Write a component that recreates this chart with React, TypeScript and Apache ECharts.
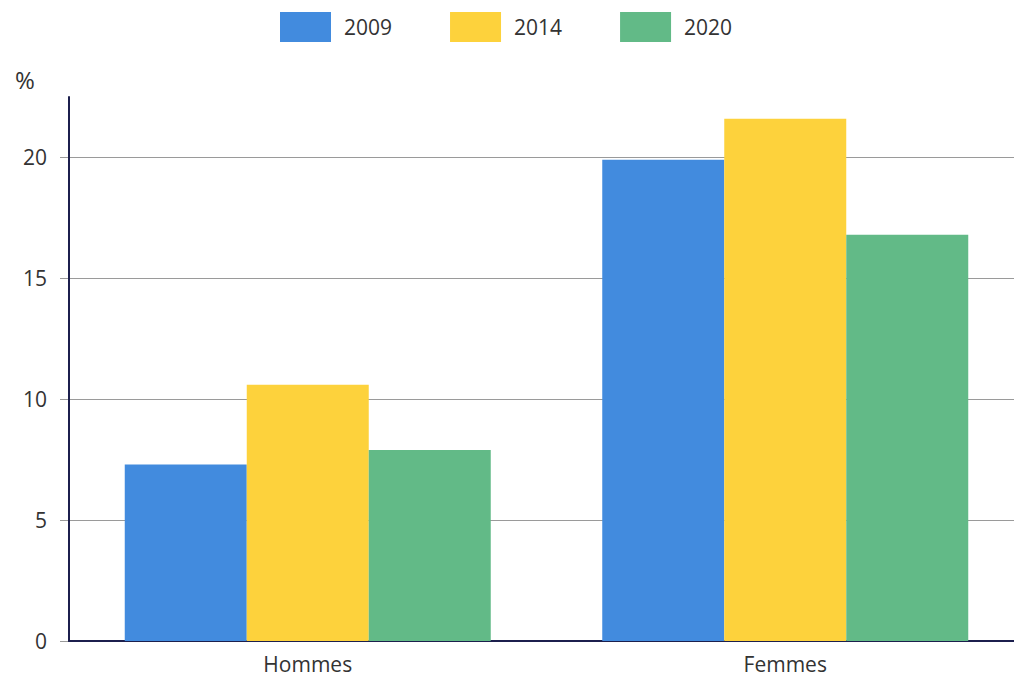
import React, { useEffect, useRef } from "react";
import * as echarts from "echarts";

const categories = ["Hommes", "Femmes"];
const years = ["2009", "2014", "2020"];
const values2009 = [7.3, 19.9];
const values2014 = [10.6, 21.6];
const values2020 = [7.9, 16.8];
const yTicks = [0, 5, 10, 15, 20];
const colors = ["#428bde", "#fdd23c", "#62ba87"];

export default function App() {
  const ref = useRef<HTMLDivElement>(null);
  useEffect(() => {
    if (!ref.current) return;
    const chart = echarts.init(ref.current, undefined, { renderer: "svg" });
    const seriesValues = [values2009, values2014, values2020];
    const font = "'Open Sans', 'Noto Sans', sans-serif";
    chart.setOption({
      animation: false,
      backgroundColor: "#ffffff",
      textStyle: { fontFamily: font },
      title: {
        text: "%",
        left: 10,
        top: 62,
        textStyle: { fontFamily: font, fontSize: 24, fontWeight: "normal", color: "#333" },
      },
      legend: {
        data: years,
        top: 12,
        left: 280,
        padding: 0,
        itemWidth: 51,
        itemHeight: 30,
        itemGap: 58,
        icon: "rect",
        textStyle: { fontFamily: font, fontSize: 21, color: "#333", padding: [0, 0, 0, 8] },
      },
      grid: [
        { left: 60, width: 980, top: 97, bottom: 36, containLabel: false },
        { left: 69, width: 955, top: 97, bottom: 36, containLabel: false },
      ],
      xAxis: [
        { type: "category", gridIndex: 0, data: [""], show: false },
        {
          type: "category",
          gridIndex: 1,
          data: categories,
          axisLine: { lineStyle: { color: "#1c1f4d", width: 2 } },
          axisTick: { show: false },
          axisLabel: { fontFamily: font, fontSize: 21, color: "#333", margin: 12 },
          splitLine: { show: false },
        },
      ],
      yAxis: [
        {
          type: "value",
          gridIndex: 0,
          min: 0,
          max: 22.5,
          interval: 5,
          axisLine: { show: false },
          axisTick: { show: false, customValues: yTicks },
          axisLabel: { show: false, customValues: yTicks },
          splitLine: { show: true, lineStyle: { color: "#9a9a9a", width: 1 } },
        },
        {
          type: "value",
          gridIndex: 1,
          min: 0,
          max: 22.5,
          interval: 5,
          axisLine: { show: true, lineStyle: { color: "#1c1f4d", width: 2 } },
          axisTick: { show: false, customValues: yTicks },
          axisLabel: {
            fontFamily: font,
            fontSize: 21,
            color: "#333",
            margin: 22,
            customValues: yTicks,
          },
          splitLine: { show: false },
        },
      ],
      series: years.map((y, i) => ({
        name: y,
        type: "bar",
        xAxisIndex: 1,
        yAxisIndex: 1,
        data: seriesValues[i],
        barWidth: 122,
        barGap: "0%",
        itemStyle: { color: colors[i] },
      })),
    });
    return () => chart.dispose();
  }, []);
  return (
    <div
      ref={ref}
      style={{ position: "fixed", left: 0, top: 0, width: 1040, height: 677, background: "#fff" }}
    />
  );
}
